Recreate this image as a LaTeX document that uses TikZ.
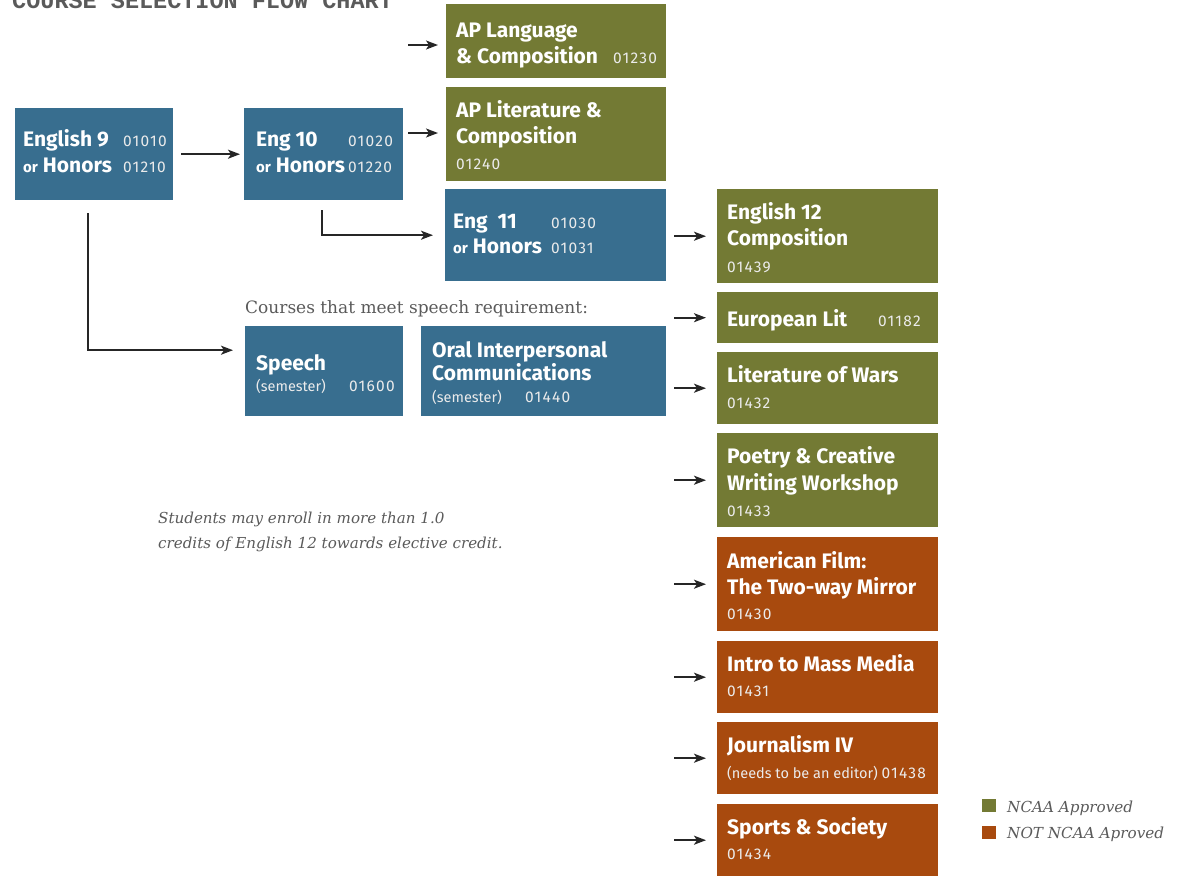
\documentclass[tikz,border=0pt]{standalone}
\usepackage{fontspec}
\newfontfamily\officefont{Fira Sans}
\newfontfamily\digitfont{Fira Sans}[LetterSpace=8]
\newfontfamily\notefont{DejaVu Serif}
\newfontfamily\titlefont{Liberation Mono}
\usetikzlibrary{arrows.meta}

\definecolor{engblue}{RGB}{56,110,143}
\definecolor{ncaagreen}{RGB}{115,122,52}
\definecolor{notorange}{RGB}{168,74,14}
\definecolor{notegray}{RGB}{90,90,90}

\newcommand\orword{{\fontsize{15}{15}\selectfont or}}

\tikzset{
  box/.style={rectangle, inner sep=0pt, anchor=north west},
  engbox/.style={box, fill=engblue},
  okbox/.style={box, fill=ncaagreen},
  notbox/.style={box, fill=notorange},
  head/.style={anchor=base west, inner sep=0pt, text=white, font=\officefont\bfseries\fontsize{21}{21}\selectfont},
  code/.style={anchor=base west, inner sep=0pt, text=white!92!black, font=\digitfont\fontsize{15.5}{15.5}\selectfont},
  extra/.style={code, font=\officefont\fontsize{14.5}{14.5}\selectfont},
  note/.style={anchor=base west, inner sep=0pt, text=notegray},
  arr/.style={-{Stealth[length=12pt,width=9pt,inset=3pt]}, line width=1.7pt, black!85},
}

\begin{document}
\begin{tikzpicture}[x=1pt,y=-1pt]
\useasboundingbox (0,0) rectangle (1187,876);

\node[note, font=\titlefont\bfseries\fontsize{23.5}{23.5}\selectfont] (title) at (12,8) {COURSE SELECTION FLOW CHART};

% grade 9 and 10
\node[engbox, minimum width=158pt, minimum height=92pt] (eng9) at (15,108) {};
\node[head] (eng9a) at (23,146) {English 9};
\node[code] (eng9b) at (123,146) {01010};
\node[head] (eng9c) at (23,172) {\orword\ Honors};
\node[code] (eng9d) at (123,172) {01210};

\node[engbox, minimum width=159pt, minimum height=92pt] (eng10) at (244,108) {};
\node[head] (eng10a) at (256,146) {Eng 10};
\node[code] (eng10b) at (348,146) {01020};
\node[head] (eng10c) at (256,172) {\orword\ Honors};
\node[code] (eng10d) at (348,172) {01220};

% grade 11
\node[okbox, minimum width=220pt, minimum height=74pt] (aplang) at (446,4) {};
\node[head] (aplanga) at (456,37) {AP Language};
\node[head] (aplangb) at (456,63) {\& Composition};
\node[code] (aplangc) at (613,63) {01230};

\node[okbox, minimum width=220pt, minimum height=94pt] (aplit) at (446,87) {};
\node[head] (aplita) at (456,117) {AP Literature \&};
\node[head] (aplitb) at (456,143) {Composition};
\node[code] (aplitc) at (456,169) {01240};

\node[engbox, minimum width=221pt, minimum height=92pt] (eng11) at (445,189) {};
\node[head] (eng11a) at (453,228) {Eng\ \ 11};
\node[code] (eng11b) at (551,228) {01030};
\node[head] (eng11c) at (453,253) {\orword\ Honors};
\node[code] (eng11d) at (551,253) {01031};

% speech
\node[note, font=\notefont\fontsize{17}{17}\selectfont] (speechnote) at (245,313) {Courses that meet speech requirement:};

\node[engbox, minimum width=158pt, minimum height=90pt] (speech) at (245,326) {};
\node[head] (speecha) at (256,370) {Speech};
\node[extra] (speechb) at (256,391) {(semester)};
\node[code] (speechc) at (349,391) {01600};

\node[engbox, minimum width=245pt, minimum height=90pt] (oral) at (421,326) {};
\node[head] (orala) at (432,357) {Oral Interpersonal};
\node[head] (oralb) at (432,380) {Communications};
\node[extra] (oralc) at (432,402) {(semester)};
\node[code] (orald) at (525,402) {01440};

% grade 12
\node[okbox, minimum width=221pt, minimum height=94pt] (eng12) at (717,189) {};
\node[head] (eng12a) at (727,219) {English 12};
\node[head] (eng12b) at (727,245) {Composition};
\node[code] (eng12c) at (727,272) {01439};

\node[okbox, minimum width=221pt, minimum height=51pt] (eurolit) at (717,292) {};
\node[head] (euroa) at (727,326) {European Lit};
\node[code] (eurob) at (878,326) {01182};

\node[okbox, minimum width=221pt, minimum height=72pt] (wars) at (717,352) {};
\node[head] (warsa) at (727,382) {Literature of Wars};
\node[code] (warsb) at (727,408) {01432};

\node[okbox, minimum width=221pt, minimum height=94pt] (poetry) at (717,433) {};
\node[head] (poetrya) at (727,463) {Poetry \& Creative};
\node[head] (poetryb) at (727,490) {Writing Workshop};
\node[code] (poetryc) at (727,516) {01433};

\node[notbox, minimum width=221pt, minimum height=94pt] (film) at (717,537) {};
\node[head] (filma) at (727,568) {American Film:};
\node[head] (filmb) at (727,594) {The Two-way Mirror};
\node[code] (filmc) at (727,619) {01430};

\node[notbox, minimum width=221pt, minimum height=72pt] (media) at (717,641) {};
\node[head] (mediaa) at (727,671) {Intro to Mass Media};
\node[code] (mediab) at (727,696) {01431};

\node[notbox, minimum width=221pt, minimum height=72pt] (journal) at (717,722) {};
\node[head] (journala) at (727,752) {Journalism IV};
\node[extra] (journalb) at (727,778) {(needs to be an editor) {\digitfont\fontsize{15.5}{15.5}\selectfont 01438}};

\node[notbox, minimum width=221pt, minimum height=72pt] (sports) at (717,804) {};
\node[head] (sportsa) at (727,834) {Sports \& Society};
\node[code] (sportsb) at (727,859) {01434};

% notes and legend
\node[note, font=\notefont\itshape\fontsize{15.1}{15.1}\selectfont] (credit1) at (158,523) {Students may enroll in more than 1.0};
\node[note, font=\notefont\itshape\fontsize{15.1}{15.1}\selectfont] (credit2) at (158,548) {credits of English 12 towards elective credit.};

\node[okbox, minimum width=14pt, minimum height=13pt] (keyok) at (982,799) {};
\node[notbox, minimum width=14pt, minimum height=13pt] (keynot) at (982,826) {};
\node[note, font=\notefont\itshape\fontsize{15.2}{15.2}\selectfont] (keyoka) at (1007,812) {NCAA Approved};
\node[note, font=\notefont\itshape\fontsize{15.2}{15.2}\selectfont] (keynota) at (1007,838) {NOT NCAA Aproved};

% arrows
\draw[arr, shorten <=8pt, shorten >=4pt] (eng9) -- (eng10);
\coordinate (aplang-in) at (408,45);
\coordinate (aplit-in) at (408,133);
\draw[arr, shorten >=8pt] (aplang-in) -- (aplang-in -| aplang.west);
\draw[arr, shorten >=8pt] (aplit-in) -- (aplit-in -| aplit.west);
\draw[arr, shorten <=10pt, shorten >=12pt] ([xshift=-1.5pt]eng10.south) |- (eng11);
\draw[arr, shorten <=13pt, shorten >=12pt] ([xshift=-6pt]eng9.south) |- ([yshift=21pt]speech.west);
\foreach \c in {eng12,eurolit,wars,poetry,film,media,journal,sports} {
  \coordinate (\c-in) at ([xshift=-43pt]\c.west);
  \draw[arr, shorten >=11pt] (\c-in) -- (\c);
}
\end{tikzpicture}
\end{document}
